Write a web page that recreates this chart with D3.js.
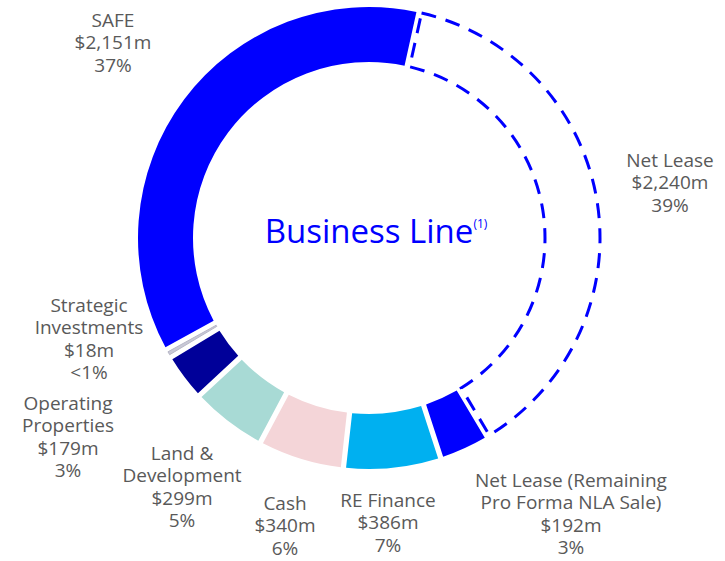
<!DOCTYPE html>
<html>
<head>
<meta charset="utf-8">
<script src="https://cdn.jsdelivr.net/npm/d3@7"></script>
<style>
  body { margin: 0; background: #fff; }
  svg text { font-family: "Open Sans", Lato, sans-serif; }
</style>
</head>
<body>
<svg id="chart" width="725" height="561"></svg>
<script>
///////////////////////////////////////////////////////////
// Data (clockwise from Net Lease)
const names = [
  ["Net Lease"],
  ["Net Lease (Remaining", "Pro Forma NLA Sale)"],
  ["RE Finance"],
  ["Cash"],
  ["Land &", "Development"],
  ["Operating", "Properties"],
  ["Strategic", "Investments"],
  ["SAFE"]
];
const values = [2240, 192, 386, 340, 299, 179, 18, 2151];
const valueLabels = ["$2,240m", "$192m", "$386m", "$340m", "$299m", "$179m", "$18m", "$2,151m"];
const pctLabels = ["39%", "3%", "7%", "6%", "5%", "3%", "<1%", "37%"];
const colors = ["none", "#0000ff", "#00b0f0", "#f4d5d8", "#a8dad5", "#000099", "#c9c9d6", "#0000ff"];

///////////////////////////////////////////////////////////
// Layout
const cx = 369, cy = 238;
const outerR = 231, innerR = 176;
const startDeg = 12.5;
const lineH = 22.5;
// label centre (x, y of first line's middle) per slice
const labelPos = [
  [670, 160], [571, 480], [388, 500], [285, 503],
  [182, 453], [68, 403], [89, 305], [113, 20]
];

const svg = d3.select("#chart");
const g = svg.append("g").attr("transform", `translate(${cx},${cy})`);

const pie = d3.pie()
  .sort(null)
  .startAngle(startDeg * Math.PI / 180)
  .endAngle((startDeg + 360) * Math.PI / 180)
  .padAngle(0.018);

const arc = d3.arc().innerRadius(innerR).outerRadius(outerR);

const arcs = pie(values);

g.selectAll(".slice")
  .data(arcs)
  .enter().append("path")
  .attr("class", "slice")
  .attr("d", arc)
  .attr("fill", (d, i) => i === 0 ? "#fff" : colors[i])
  .attr("stroke", (d, i) => i === 0 ? "#0000ff" : (i === 6 ? "#b8b8c8" : "none"))
  .attr("stroke-width", (d, i) => i === 0 ? 3 : 1)
  .attr("stroke-dasharray", (d, i) => i === 0 ? "15,10" : null);

// Centre title
const title = svg.append("text")
  .attr("x", cx + 7)
  .attr("y", cy + 5)
  .attr("text-anchor", "middle")
  .attr("fill", "#0000ff")
  .attr("font-size", 33);
title.append("tspan").text("Business Line");
title.append("tspan")
  .attr("font-size", 12)
  .attr("dy", -15)
  .text("(1)");

// Labels: one text element per line
names.forEach(function (nm, i) {
  const lines = nm.concat([valueLabels[i], pctLabels[i]]);
  lines.forEach(function (ln, j) {
    svg.append("text")
      .attr("x", labelPos[i][0])
      .attr("y", labelPos[i][1] + j * lineH)
      .attr("dy", "0.35em")
      .attr("text-anchor", "middle")
      .attr("fill", "#595959")
      .attr("font-size", 19)
      .text(ln);
  });
});
</script>
</body>
</html>
